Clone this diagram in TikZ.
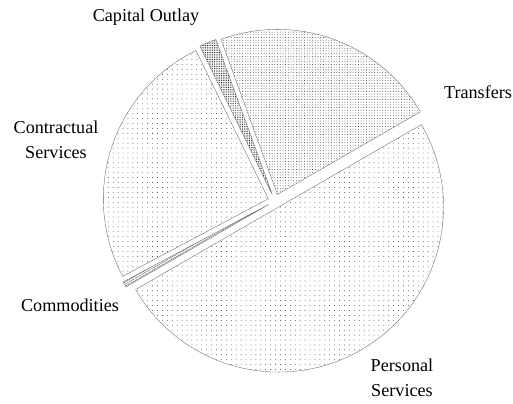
\documentclass[tikz,border=0pt]{standalone}
\usepackage{fontspec}
\setmainfont{Liberation Serif}
\usetikzlibrary{patterns,patterns.meta,positioning}

\begin{document}
\begin{tikzpicture}[x=0.03cm,y=0.03cm]
        % Define styles
        \tikzstyle{wedge} = [draw=black!60, line width=0.3pt]
        \tikzstyle{sparse} = [pattern={Dots[distance=4.2pt, radius=0.38pt]}, pattern color=black!80]
        \tikzstyle{dense} = [pattern={Dots[distance=2.3pt, radius=0.36pt]}, pattern color=black!85]
        \tikzstyle{pielabel} = [font=\fontsize{15.5}{21}\selectfont, align=center]

        \useasboundingbox (0,0) rectangle (513,404);
        \coordinate (center) at (275,203);

        % Slices
        \path[wedge, dense] ([shift={(70:7)}]center) -- ++(30:165)
            arc[start angle=30, end angle=110, radius=165] -- cycle;
        \path[wedge, pattern={Dots[distance=1.5pt, radius=0.4pt]}, pattern color=black] ([shift={(113:7)}]center) -- ++(110:165)
            arc[start angle=110, end angle=116, radius=165] -- cycle;
        \path[wedge, sparse] ([shift={(162:7)}]center) -- ++(116:165)
            arc[start angle=116, end angle=208, radius=165] -- cycle;
        \path[wedge, pattern={Lines[angle=30, distance=1.6pt, line width=0.3pt]}, pattern color=black!70] ([shift={(209:7)}]center) -- ++(208:165)
            arc[start angle=208, end angle=210, radius=165] -- cycle;
        \path[wedge, sparse] ([shift={(300:7)}]center) -- ++(210:165)
            arc[start angle=210, end angle=390, radius=165] -- cycle;

        % Labels
        \node[pielabel] (capital) at (146,387) {Capital Outlay};
        \node[pielabel] (transfers) at (478,312) {Transfers};
        \node[pielabel] (contractual) at (56,264) {Contractual\\Services};
        \node[pielabel] (commodities) at (70,99) {Commodities};
        \node[pielabel] (personal) at (402,26) {Personal\\Services};

    \end{tikzpicture}
\end{document}
